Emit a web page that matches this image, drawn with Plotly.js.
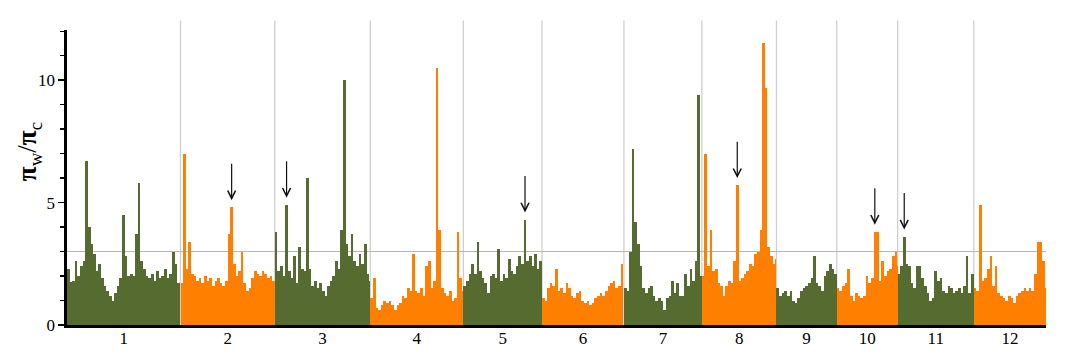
<!DOCTYPE html>
<html>
<head>
<meta charset="utf-8">
<script src="https://cdn.plot.ly/plotly-3.0.1.min.js"></script>
<style>html,body{margin:0;padding:0;background:#fff;}#chart{width:1071px;height:352px;}</style>
</head>
<body>
<div id="chart"></div>
<script>
// Chromosome lengths (Mb) and labels
const chrLengths = [43.27, 35.94, 36.41, 35.50, 29.96, 31.25, 29.70, 28.44, 23.01, 23.21, 29.02, 27.53];
const chrLabels = ['1','2','3','4','5','6','7','8','9','10','11','12'];

// pi_w / pi_c per 1-Mb window
const chr1 = [2.3,1.75,1.8,2.6,2.0,2.4,2.6,6.7,4.0,3.3,2.9,2.2,2.5,1.9,1.6,1.4,1.2,1.0,1.3,1.6,1.9,4.5,2.8,2.0,2.1,2.0,3.7,5.8,2.6,2.3,2.0,1.9,2.1,1.8,2.2,1.9,2.0,2.3,1.9,2.1,3.0,2.5,1.7];
const chr2 = [1.7,7.0,2.3,3.4,2.1,2.0,1.8,1.9,1.7,2.0,1.8,1.9,1.6,1.8,1.9,1.7,1.6,1.8,3.7,4.8,2.5,2.0,2.2,3.0,1.7,1.4,1.5,1.9,2.2,2.1,2.0,2.2,2.1,1.9,2.0,1.8];
const chr3 = [3.8,2.2,2.4,2.0,4.9,2.2,1.9,2.8,1.7,3.2,2.3,2.2,6.0,2.3,1.6,1.8,1.5,1.7,1.4,1.2,1.6,1.8,2.0,2.6,2.3,3.9,10.0,3.3,2.8,3.7,2.6,2.4,2.9,2.5,3.3,2.1,1.8];
const chr4 = [1.1,1.9,0.7,0.6,0.8,1.0,0.9,1.0,0.8,0.6,0.8,0.9,1.2,1.1,1.5,1.4,2.9,1.4,1.3,1.5,1.2,2.4,2.6,1.5,1.8,10.5,3.9,1.5,1.3,1.2,1.4,1.0,1.1,3.8,1.9,1.4];
const chr5 = [1.6,1.8,2.1,2.5,2.1,3.4,2.2,1.9,1.7,1.3,2.0,2.1,1.9,3.1,1.8,2.1,1.9,2.7,2.2,2.1,2.4,2.8,2.5,4.3,2.6,2.8,2.4,2.9,2.3,2.6];
const chr6 = [1.1,1.0,1.5,1.7,1.6,2.3,1.4,1.5,1.3,1.7,1.5,1.2,1.1,1.3,1.4,1.0,0.9,1.0,0.8,0.9,1.1,1.2,1.3,1.2,1.4,1.6,1.7,1.8,1.5,1.6,2.5];
const chr7 = [1.5,1.4,3.0,7.2,4.2,3.3,2.4,1.5,1.3,1.5,1.6,1.2,1.0,1.1,1.0,0.6,1.1,1.2,1.8,1.3,1.7,1.2,1.2,2.1,1.6,2.3,1.8,2.6,9.4,2.0];
const chr8 = [2.0,7.0,2.4,3.9,2.2,2.3,1.7,1.6,1.2,1.6,1.8,1.7,2.6,5.7,1.8,1.9,2.1,2.2,2.5,2.4,2.9,3.0,3.9,11.5,9.7,3.2,2.8,2.5,2.7];
const chr9 = [1.5,1.2,1.3,1.4,1.2,1.4,1.0,0.9,1.1,1.4,1.5,1.6,1.7,1.9,2.8,1.7,1.6,1.4,2.0,2.2,2.5,2.3,2.1];
const chr10 = [1.5,1.4,1.6,1.7,2.3,1.2,1.0,1.3,1.2,1.1,1.2,2.0,1.7,1.9,3.8,3.8,1.8,2.6,2.0,2.2,2.3,2.8,3.0,2.4];
const chr11 = [2.1,2.4,3.6,2.5,2.4,1.7,1.5,2.4,2.4,1.9,1.6,1.3,1.0,1.1,2.2,1.8,1.9,1.4,1.3,1.6,1.5,1.3,1.4,1.5,1.3,1.6,2.8,1.3,2.1];
const chr12 = [1.5,1.4,4.9,1.8,1.9,2.3,2.8,1.6,2.4,1.3,1.2,1.1,1.0,1.2,1.1,0.9,1.2,1.3,1.4,1.5,1.4,1.5,1.4,2.1,3.4,3.4,2.6,1.5];
const chrValues = [chr1,chr2,chr3,chr4,chr5,chr6,chr7,chr8,chr9,chr10,chr11,chr12];

// Highlighted windows (chromosome, window index)
const arrowChr = [2, 3, 5, 8, 10, 11];
const arrowWin = [19, 4, 23, 13, 14, 2];

const threshold = 3;
const yTitle = '<b>π</b><sub>w</sub>/<b>π</b><sub>c</sub>';

// ---- build ----
const offsets = [];
let acc = 0;
chrLengths.forEach(l => { offsets.push(acc); acc += l; });
const total = acc;

const colors = ['#556b2f', '#ff7f00'];
const traces = [0,1].map(k => ({type:'bar', x:[], y:[], width:[], marker:{color:colors[k], line:{width:0}}, hoverinfo:'skip', showlegend:false}));
chrValues.forEach((vals, c) => {
  const t = traces[c % 2];
  vals.forEach((v, i) => {
    const w = Math.min(1, chrLengths[c] - i);
    if (w <= 0) return;
    t.x.push(offsets[c] + i + w/2);
    t.y.push(v);
    t.width.push(w);
  });
});

const shapes = [];
for (let c = 1; c < chrLengths.length; c++) {
  shapes.push({type:'line', layer:'below', xref:'x', yref:'paper', x0:offsets[c], x1:offsets[c], y0:0, y1:1.032, line:{color:'#cfcfcf', width:1.3}});
}
shapes.push({type:'line', layer:'below', xref:'paper', yref:'y', x0:0, x1:1, y0:threshold, y1:threshold, line:{color:'#b5b5b5', width:1}});

const annotations = arrowChr.map((c, k) => {
  const i = arrowWin[k];
  const x = offsets[c-1] + i + 0.5;
  const yHead = chrValues[c-1][i] + 0.3;
  return {x:x, y:yHead, ax:x, ay:yHead + 1.55, xref:'x', yref:'y', axref:'x', ayref:'y', text:'', showarrow:true, arrowhead:5, arrowsize:1.3, arrowwidth:1.2, arrowcolor:'#111'};
});

const serif = 'Liberation Serif, DejaVu Serif, Times New Roman, serif';

annotations.push({xref:'paper', yref:'paper', x:0, y:0.586, xanchor:'center', yanchor:'middle', xshift:-38,
  textangle:-90, showarrow:false, text:yTitle, font:{family:serif, size:27, color:'#000'}});

const tickvals = offsets.map((o, c) => o + chrLengths[c]/2);

const layout = {
  width:1071, height:352,
  margin:{l:67, r:25, t:30, b:27},
  paper_bgcolor:'#fff', plot_bgcolor:'#fff',
  bargap:0,
  font:{family:serif, color:'#000', size:17},
  xaxis:{range:[0,total], showgrid:false, zeroline:false, showline:true, linecolor:'#000', linewidth:2.6,
         tickmode:'array', tickvals:tickvals, ticktext:chrLabels, ticks:'', fixedrange:true,
         ticklabelstandoff:-4,
         tickfont:{family:serif, size:17, color:'#000'}},
  yaxis:{range:[0,12.05], showgrid:false, zeroline:false, showline:true, linecolor:'#000', linewidth:2.6,
         tick0:0, dtick:5, ticks:'outside', ticklen:6, tickwidth:1.6, tickcolor:'#000',
         minor:{dtick:1, tick0:0, ticks:'outside', ticklen:4, tickwidth:1.4, tickcolor:'#000', showgrid:false},
         tickfont:{family:serif, size:17, color:'#000'}},
  shapes:shapes,
  annotations:annotations
};

Plotly.newPlot('chart', traces, layout, {displayModeBar:false, staticPlot:true});
</script>
</body>
</html>
